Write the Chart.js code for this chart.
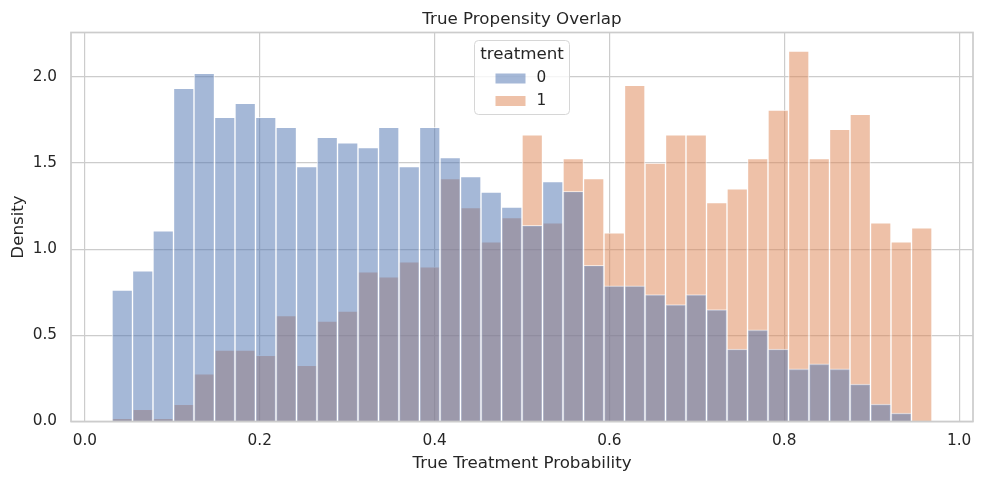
<!DOCTYPE html>
<html>
<head>
<meta charset="utf-8">
<script src="https://cdn.jsdelivr.net/npm/chart.js@4.4.1/dist/chart.umd.min.js"></script>
<style>
  html, body { margin: 0; padding: 0; background: #fff; }
  #wrap { width: 984px; height: 484px; }
</style>
</head>
<body>
<div id="wrap"><canvas id="chart"></canvas></div>
<script>
// histogram bins: 40 equal bins between these edges
const binLow = 0.031;
const binHigh = 0.969;
const binCount = 40;

// density per bin
const treatment0 = [
  0.763, 0.874, 1.107, 1.934, 2.021, 1.765, 1.847, 1.765, 1.707, 1.480,
  1.649, 1.617, 1.590, 1.707, 1.480, 1.707, 1.532, 1.421, 1.332, 1.245,
  1.138, 1.392, 1.336, 0.907, 0.788, 0.788, 0.736, 0.678, 0.736, 0.649,
  0.421, 0.532, 0.421, 0.305, 0.334, 0.305, 0.217, 0.101, 0.049, 0.000
];
const treatment1 = [
  0.019, 0.070, 0.019, 0.099, 0.276, 0.414, 0.414, 0.384, 0.614, 0.326,
  0.583, 0.641, 0.868, 0.839, 0.926, 0.897, 1.410, 1.241, 1.043, 1.183,
  1.664, 1.153, 1.526, 1.410, 1.095, 1.951, 1.499, 1.664, 1.664, 1.270,
  1.350, 1.526, 1.808, 2.150, 1.526, 1.695, 1.783, 1.153, 1.043, 1.124
];

const seriesLabels = ['0', '1'];
const xTicks = [0.0, 0.2, 0.4, 0.6, 0.8, 1.0];
const yTicks = [0.0, 0.5, 1.0, 1.5, 2.0];
const titleText = 'True Propensity Overlap';

const binWidth = (binHigh - binLow) / binCount;
const centers = treatment0.map((_, i) => binLow + binWidth * (i + 0.5));

const fillColors = ['rgba(76,114,176,0.5)', 'rgba(221,132,82,0.5)'];
const textColor = '#262626';
const gridColor = '#cccccc';
const font = 'DejaVu Sans';

// x and y limits with matplotlib's 5% margins
const xMin = binLow - 0.05 * (binHigh - binLow);
const xMax = binHigh + 0.05 * (binHigh - binLow);
const yMax = 1.05 * Math.max(...treatment0, ...treatment1);

// frame on all four sides, title over the plot, legend inside the plot
const framePlugin = {
  id: 'frameAndLegend',
  afterDatasetsDraw(chart) {
    const { ctx, chartArea: a } = chart;
    const midX = (a.left + a.right) / 2;
    ctx.save();
    ctx.strokeStyle = gridColor;
    ctx.lineWidth = 1.7;
    ctx.strokeRect(a.left, a.top, a.right - a.left, a.bottom - a.top);

    ctx.fillStyle = textColor;
    ctx.textAlign = 'center';
    ctx.textBaseline = 'alphabetic';
    ctx.font = '16.7px "' + font + '"';
    ctx.fillText(titleText, midX, a.top - 9);

    // legend box, upper centre
    const boxW = 95, boxH = 74;
    const bx = midX - boxW / 2;
    const by = a.top + 8;
    ctx.beginPath();
    ctx.roundRect(bx, by, boxW, boxH, 4);
    ctx.fillStyle = 'rgba(255,255,255,0.8)';
    ctx.fill();
    ctx.strokeStyle = '#d6d6d6';
    ctx.lineWidth = 1;
    ctx.stroke();

    ctx.fillStyle = textColor;
    ctx.textBaseline = 'middle';
    ctx.fillText('treatment', midX, by + 14);

    ctx.font = '15.3px "' + font + '"';
    ctx.textAlign = 'left';
    seriesLabels.forEach((lab, i) => {
      const cy = by + 38 + i * 22.5;
      ctx.fillStyle = fillColors[i];
      ctx.fillRect(bx + 21, cy - 5, 30, 10);
      ctx.fillStyle = textColor;
      ctx.fillText(lab, bx + 62, cy);
    });
    ctx.restore();
  }
};

new Chart(document.getElementById('chart'), {
  type: 'bar',
  data: {
    datasets: [treatment0, treatment1].map((vals, k) => ({
      label: seriesLabels[k],
      data: vals.map((v, i) => ({ x: centers[i], y: v })),
      backgroundColor: fillColors[k],
      borderColor: 'rgba(255,255,255,0.6)',
      borderWidth: 1,
      borderSkipped: 'bottom',
      barPercentage: 1,
      categoryPercentage: 1,
      grouped: false
    }))
  },
  options: {
    responsive: true,
    maintainAspectRatio: false,
    animation: false,
    layout: { padding: { left: 0, right: 11, top: 32.5, bottom: 0 } },
    plugins: {
      legend: { display: false },
      tooltip: { enabled: false },
      title: { display: false }
    },
    scales: {
      x: {
        type: 'linear',
        offset: false,
        min: xMin,
        max: xMax,
        afterBuildTicks: s => { s.ticks = xTicks.map(v => ({ value: v })); },
        afterFit: s => { s.height = 62.5; },
        grid: { color: gridColor, lineWidth: 1.2, drawTicks: false, offset: false },
        border: { display: false },
        ticks: {
          color: textColor,
          padding: 10,
          font: { family: font, size: 15.3 },
          callback: v => v.toFixed(1)
        },
        title: {
          display: true,
          text: 'True Treatment Probability',
          color: textColor,
          font: { family: font, size: 16.7 },
          padding: { top: 0, bottom: 10 }
        }
      },
      y: {
        min: 0,
        max: yMax,
        afterBuildTicks: s => { s.ticks = yTicks.map(v => ({ value: v })); },
        afterFit: s => { s.width = 71; },
        grid: { color: gridColor, lineWidth: 1.2, drawTicks: false },
        border: { display: false },
        ticks: {
          color: textColor,
          padding: 14,
          font: { family: font, size: 15.3 },
          callback: v => v.toFixed(1)
        },
        title: {
          display: true,
          text: 'Density',
          color: textColor,
          font: { family: font, size: 16.7 },
          padding: { top: 9, bottom: 0 }
        }
      }
    }
  },
  plugins: [framePlugin]
});
</script>
</body>
</html>
